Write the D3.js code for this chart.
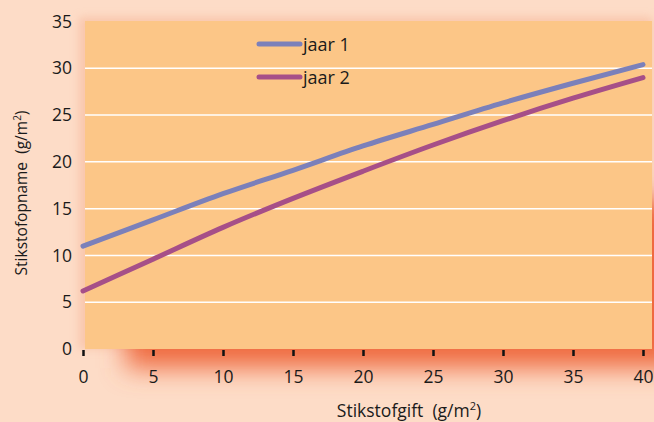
<!DOCTYPE html>
<html>
<head>
<meta charset="utf-8">
<script src="https://cdn.jsdelivr.net/npm/d3@7"></script>
<style>
  html, body { margin: 0; padding: 0; background: #fddcc7; }
  svg { display: block; }
  text { font-family: "Open Sans", "Noto Sans", sans-serif; fill: #1a1a1a; white-space: pre; }
</style>
</head>
<body>
<svg id="chart" width="654" height="422"></svg>
<script>
// Stikstofgift (g/m²) on the x axis
const gift = [0, 5, 10, 15, 20, 25, 30, 35, 40];
// Stikstofopname (g/m²) per year
const jaar1 = [11.0, 13.8, 16.6, 19.1, 21.7, 24.0, 26.3, 28.4, 30.4];
const jaar2 = [6.2, 9.6, 13.0, 16.1, 19.0, 21.8, 24.4, 26.8, 29.0];
const seriesNames = ["jaar 1", "jaar 2"];
const xTicks = [0, 5, 10, 15, 20, 25, 30, 35, 40];
const yTicks = [0, 5, 10, 15, 20, 25, 30, 35];

const colors = ["#7b80ba", "#a64f88"];

const svg = d3.select("#chart");
const W = 654, H = 422;
const plot = { left: 85, right: 652, top: 21, bottom: 349 };

const x = d3.scaleLinear().domain([0, 40]).range([83, 643]);
const y = d3.scaleLinear().domain([0, 35]).range([349, 21.5]);

// background
svg.append("rect").attr("width", W).attr("height", H).attr("fill", "#fddcc7");

// soft red shadow under the plotting area
const defs = svg.append("defs");
const f = defs.append("filter").attr("id", "soft")
  .attr("filterUnits", "userSpaceOnUse")
  .attr("x", 0).attr("y", 0).attr("width", W).attr("height", H);
f.append("feGaussianBlur").attr("stdDeviation", 13);

const fl = defs.append("filter").attr("id", "softL")
  .attr("filterUnits", "userSpaceOnUse")
  .attr("x", 0).attr("y", 0).attr("width", W).attr("height", H);
fl.append("feGaussianBlur").attr("stdDeviation", 4);

svg.append("rect")
  .attr("x", plot.left - 6).attr("y", plot.top - 4)
  .attr("width", plot.right - plot.left + 6).attr("height", plot.bottom - plot.top + 4)
  .attr("fill", "#f6b79a").attr("filter", "url(#softL)").attr("opacity", 0.6);

svg.append("rect")
  .attr("x", 126).attr("y", 200)
  .attr("width", 600).attr("height", 168)
  .attr("fill", "#ef6a40").attr("filter", "url(#soft)");

// plotting area
svg.append("rect")
  .attr("x", plot.left).attr("y", plot.top)
  .attr("width", plot.right - plot.left).attr("height", plot.bottom - plot.top)
  .attr("fill", "#fcc687");

// horizontal grid lines
svg.append("g").selectAll("line")
  .data(yTicks.filter(d => d > 0 && d < 35))
  .join("line")
  .attr("x1", plot.left).attr("x2", plot.right)
  .attr("y1", d => y(d)).attr("y2", d => y(d))
  .attr("stroke", "#ffffff").attr("stroke-width", 1.5);

// x axis: ticks and labels
const xAxis = d3.axisBottom(x).tickValues(xTicks).tickSize(6).tickPadding(4).tickFormat(d3.format("d"));
const gx = svg.append("g").attr("transform", `translate(0,${plot.bottom + 1})`).call(xAxis);
gx.select(".domain").remove();
gx.selectAll(".tick line").attr("stroke", "#111").attr("stroke-width", 2.5);
gx.selectAll(".tick text").attr("font-size", 17.5).attr("dy", "1.3em")
  .attr("font-family", "'Open Sans', sans-serif").attr("fill", "#1a1a1a");

// y axis labels
const yAxis = d3.axisLeft(y).tickValues(yTicks).tickSize(0).tickPadding(11).tickFormat(d3.format("d"));
const gy = svg.append("g").attr("transform", `translate(${plot.left - 2},0)`).call(yAxis);
gy.select(".domain").remove();
gy.selectAll(".tick text").attr("font-size", 17.5)
  .attr("font-family", "'Open Sans', sans-serif").attr("fill", "#1a1a1a");

// lines
const line = d3.line().x((d, i) => x(gift[i])).y(d => y(d)).curve(d3.curveMonotoneX);
[jaar1, jaar2].forEach((s, i) => {
  svg.append("path").datum(s)
    .attr("d", line)
    .attr("fill", "none")
    .attr("stroke", colors[i])
    .attr("stroke-width", 5)
    .attr("stroke-linecap", "round");
});

// legend
const lg = svg.append("g");
seriesNames.forEach((name, i) => {
  const ly = 44 + i * 33;
  lg.append("line")
    .attr("x1", 259).attr("x2", 300).attr("y1", ly).attr("y2", ly)
    .attr("stroke", colors[i]).attr("stroke-width", 5).attr("stroke-linecap", "round");
  lg.append("text").attr("x", 303).attr("y", ly + 7)
    .attr("font-size", 18).text(name);
});

// axis titles
const xt = svg.append("text").attr("x", 409).attr("y", 417)
  .attr("text-anchor", "middle").attr("font-size", 17.5);
xt.append("tspan").text("Stikstofgift  (g/m");
xt.append("tspan").attr("font-size", 11).attr("dy", -7).text("2");
xt.append("tspan").attr("dy", 7).text(")");

const yt = svg.append("text")
  .attr("transform", "translate(27,193) rotate(-90)")
  .attr("text-anchor", "middle").attr("font-size", 15.5);
yt.append("tspan").text("Stikstofopname  (g/m");
yt.append("tspan").attr("font-size", 10).attr("dy", -6).text("2");
yt.append("tspan").attr("dy", 6).text(")");
</script>
</body>
</html>
